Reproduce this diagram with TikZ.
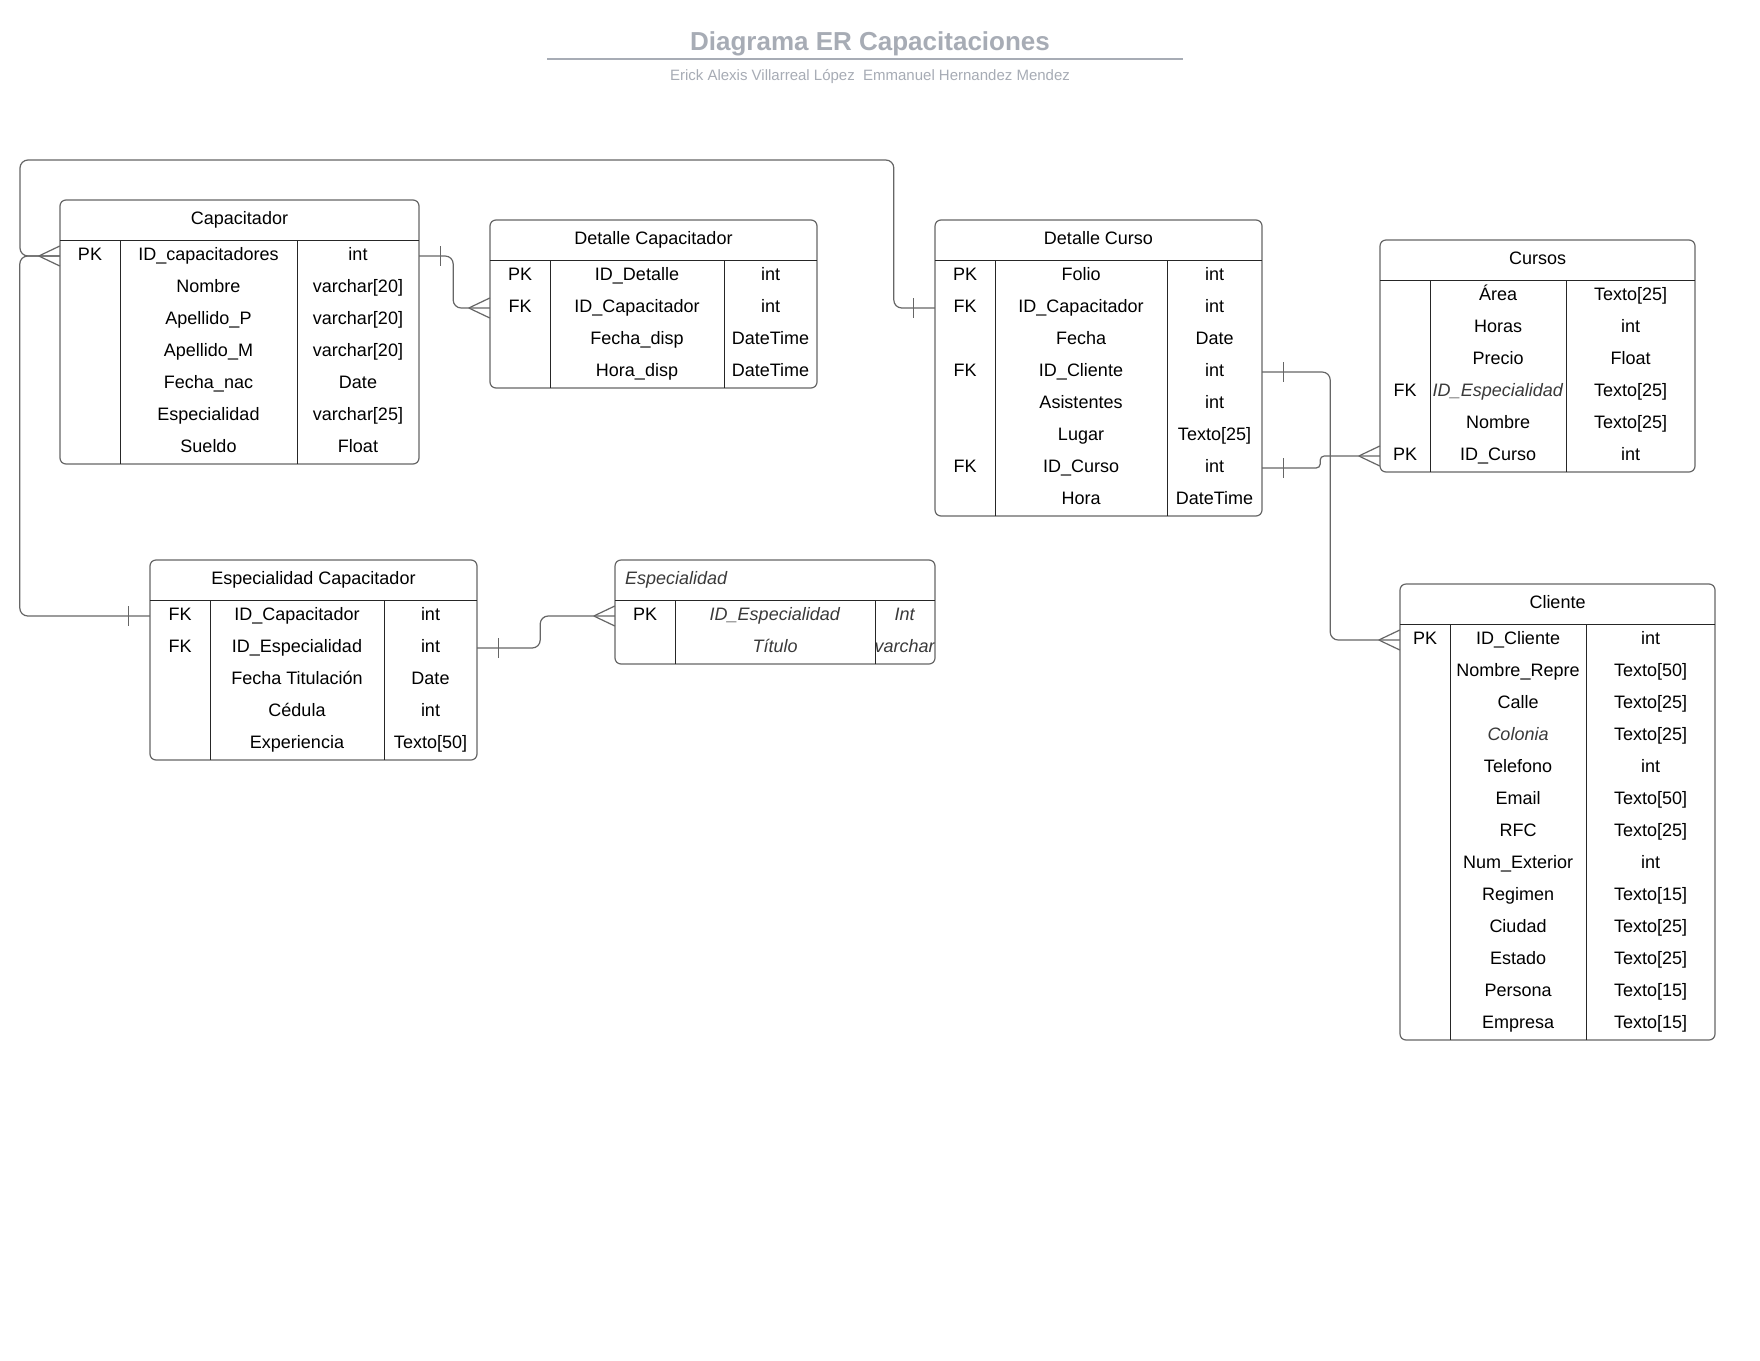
\documentclass[tikz,border=0pt]{standalone}
\usepackage{fontspec}
\setmainfont{Liberation Sans}
\usetikzlibrary{calc}

\definecolor{titlegray}{HTML}{A7ACB5}
\definecolor{linegray}{HTML}{666666}
\definecolor{italgray}{HTML}{3A3A3A}

\newcommand\rowh{32}
\newcommand\ital[1]{\textcolor{italgray}{\textit{#1}}}

\tikzset{
  box/.style={draw=linegray,line width=1.2pt,rounded corners=6pt},
  grid/.style={draw=black!85,line width=1pt},
  cell/.style={inner sep=0pt,text height=13pt,text depth=4pt,font=\fontsize{18}{20}\selectfont},
  row/.style={inner sep=0pt,minimum height=\rowh pt},
  link/.style={draw=linegray,line width=1.2pt,rounded corners=8pt},
  endmark/.style={draw=linegray,line width=1.2pt},
}

% marks at a box edge; #2 = 1 right of the box, -1 left of it
\newcommand\one[2]{\draw[endmark] ($(#1)+(#2*21,-10)$) -- ++(0,20);}
\newcommand\many[2]{\draw[endmark] ($(#1)+(#2*21,0)$) -- ($(#1)+(0,-10)$)
                                   ($(#1)+(#2*21,0)$) -- ($(#1)+(0,10)$);}

% #1 name, #2 left, #3 top, #4 #5 column lines, #6 right, #7 title, #8 rows
\newcommand\entity[8]{%
  \foreach [count=\i] \pk/\fld/\typ in {#8} {
    \node[row,minimum width={#6-#2}] (#1-\i) at ({(#2+#6)/2},{#3+40+\rowh*\i-16}) {};
    \node[cell] at ({(#2+#4)/2},{#3+40+\rowh*\i-16}) {\pk};
    \node[cell] at ({(#4+#5)/2},{#3+40+\rowh*\i-16}) {\fld};
    \node[cell] at ({(#5+#6)/2},{#3+40+\rowh*\i-16}) {\typ};
    \xdef\nrows{\i}
  }
  \node[row,minimum width={#6-#2},minimum height=40pt] (#1) at ({(#2+#6)/2},{#3+20}) {};
  \node[cell] at (#1) {#7};
  \draw[box] (#2,#3) rectangle (#6,{#3+40+\rowh*\nrows});
  \draw[grid] (#2,#3+40) -- (#6,#3+40)
              (#4,#3+40) -- (#4,{#3+40+\rowh*\nrows})
              (#5,#3+40) -- (#5,{#3+40+\rowh*\nrows});
}

\begin{document}
\begin{tikzpicture}[x=1pt,y=-1pt]

  \path[fill=white] (0,0) rectangle (1760,1360);
  \useasboundingbox (0,0) rectangle (1760,1360);

  \node[anchor=base,text=titlegray,font=\fontsize{26}{30}\selectfont\bfseries] (title) at (870,50) {Diagrama ER Capacitaciones};
  \node[anchor=base,text=titlegray,font=\fontsize{15}{18}\selectfont] (authors) at (870,80) {Erick Alexis Villarreal López\ \ Emmanuel Hernandez Mendez};
  \draw[titlegray,line width=2pt] (547,59) -- (1183,59);

  \entity{cap}{60}{200}{120}{297}{419}{Capacitador}{
    PK/ID\_capacitadores/int, {}/Nombre/varchar[20], {}/Apellido\_P/varchar[20],
    {}/Apellido\_M/varchar[20], {}/Fecha\_nac/Date, {}/Especialidad/varchar[25], {}/Sueldo/Float}
  \entity{dcap}{490}{220}{550}{724}{817}{Detalle Capacitador}{
    PK/ID\_Detalle/int, FK/ID\_Capacitador/int, {}/Fecha\_disp/DateTime, {}/Hora\_disp/DateTime}
  \entity{dcur}{935}{220}{995}{1167}{1262}{Detalle Curso}{
    PK/Folio/int, FK/ID\_Capacitador/int, {}/Fecha/Date, FK/ID\_Cliente/int,
    {}/Asistentes/int, {}/Lugar/Texto[25], FK/ID\_Curso/int, {}/Hora/DateTime}
  \entity{cur}{1380}{240}{1430}{1566}{1695}{Cursos}{
    {}/Área/Texto[25], {}/Horas/int, {}/Precio/Float, FK/\ital{ID\_Especialidad}/Texto[25],
    {}/Nombre/Texto[25], PK/ID\_Curso/int}
  \entity{cli}{1400}{584}{1450}{1586}{1715}{Cliente}{
    PK/ID\_Cliente/int, {}/Nombre\_Repre/Texto[50], {}/Calle/Texto[25], {}/\ital{Colonia}/Texto[25],
    {}/Telefono/int, {}/Email/Texto[50], {}/RFC/Texto[25], {}/Num\_Exterior/int,
    {}/Regimen/Texto[15], {}/Ciudad/Texto[25], {}/Estado/Texto[25], {}/Persona/Texto[15],
    {}/Empresa/Texto[15]}
  \entity{ecap}{150}{560}{210}{384}{477}{Especialidad Capacitador}{
    FK/ID\_Capacitador/int, FK/ID\_Especialidad/int, {}/Fecha Titulación/Date,
    {}/Cédula/int, {}/Experiencia/Texto[50]}
  \entity{esp}{615}{560}{675}{875}{935}{}{
    PK/\ital{ID\_Especialidad}/\ital{Int}, {}/\ital{Título}/\ital{varchar}}
  \node[cell,anchor=west] (esp-title) at (625,580) {\ital{Especialidad}};

  % Capacitador - Detalle Capacitador
  \draw[link] (cap-1.east) -- ++(34,0) |- (dcap-2.west);
  \one{cap-1.east}{1}
  \many{dcap-2.west}{-1}

  % Detalle Curso - Capacitador, over the top
  \draw[link] (dcur-2.west) -- ++(-41,0) |- (20,160) |- (cap-1.west);
  \one{dcur-2.west}{-1}

  % Especialidad Capacitador - Capacitador
  \draw[link] (ecap-1.west) -- ++(-130,0) |- (cap-1.west);
  \one{ecap-1.west}{-1}
  \many{cap-1.west}{-1}

  % Especialidad Capacitador - Especialidad
  \draw[link] (ecap-2.east) -- ++(63,0) |- (esp-1.west);
  \one{ecap-2.east}{1}
  \many{esp-1.west}{-1}

  % Detalle Curso - Cliente
  \draw[link] (dcur-4.east) -- ++(68,0) |- (cli-1.west);
  \one{dcur-4.east}{1}
  \many{cli-1.west}{-1}

  % Detalle Curso - Cursos
  \draw[link,rounded corners=4pt] (dcur-7.east) -- ++(58,0) |- (cur-6.west);
  \one{dcur-7.east}{1}
  \many{cur-6.west}{-1}

\end{tikzpicture}
\end{document}
